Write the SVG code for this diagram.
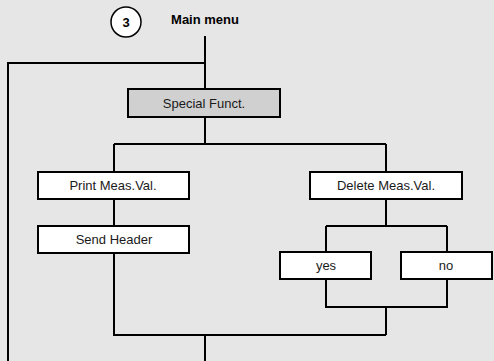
<svg xmlns="http://www.w3.org/2000/svg" width="494" height="361" viewBox="0 0 494 361">
<style>
.bg{fill:#e6e6e6}
.box{fill:#ffffff;stroke:#000;stroke-width:2}
.gbox{fill:#d0d0d0;stroke:#000;stroke-width:2}
.ln{fill:none;stroke:#000;stroke-width:2}
.t{font-family:"Liberation Sans",Arial,sans-serif;font-size:13px;fill:#1a1a1a;text-anchor:middle}
.b{font-weight:bold;fill:#000}
</style>
<rect class="bg" x="0" y="0" width="494" height="361"/>
<g id="connectors">
<path class="ln" d="M205,36 V89 M205,63 H8 V361"/>
<path class="ln" d="M205,117 V144 M114,144 H386 M114,144 V172 M114,199 V226 M114,253 V335 H386 M205,335 V361"/>
<path class="ln" d="M386,144 V172 M386,199 V226 M326,226 H447 M326,226 V252 M447,226 V252 M326,279 V307 H447 V279 M386,307 V335"/>
</g>
<g id="start">
<circle cx="126" cy="22" r="15" fill="#fff" stroke="#000" stroke-width="1.5"/>
<text class="t b" x="126" y="27">3</text>
</g>
<g id="mainmenu"><text class="t b" x="205" y="24">Main menu</text></g>
<g id="special"><rect class="gbox" x="128" y="89" width="152" height="28"/><text class="t" x="204" y="107.5">Special Funct.</text></g>
<g id="print"><rect class="box" x="38" y="172" width="151" height="27"/><text class="t" x="113" y="190">Print Meas.Val.</text></g>
<g id="send"><rect class="box" x="38" y="226" width="151" height="27"/><text class="t" x="114" y="244">Send Header</text></g>
<g id="delete"><rect class="box" x="310" y="172" width="152" height="27"/><text class="t" x="386" y="190">Delete Meas.Val.</text></g>
<g id="yes"><rect class="box" x="280" y="252" width="91" height="27"/><text class="t" x="326" y="270">yes</text></g>
<g id="no"><rect class="box" x="401" y="252" width="91" height="27"/><text class="t" x="446" y="270">no</text></g>
</svg>
